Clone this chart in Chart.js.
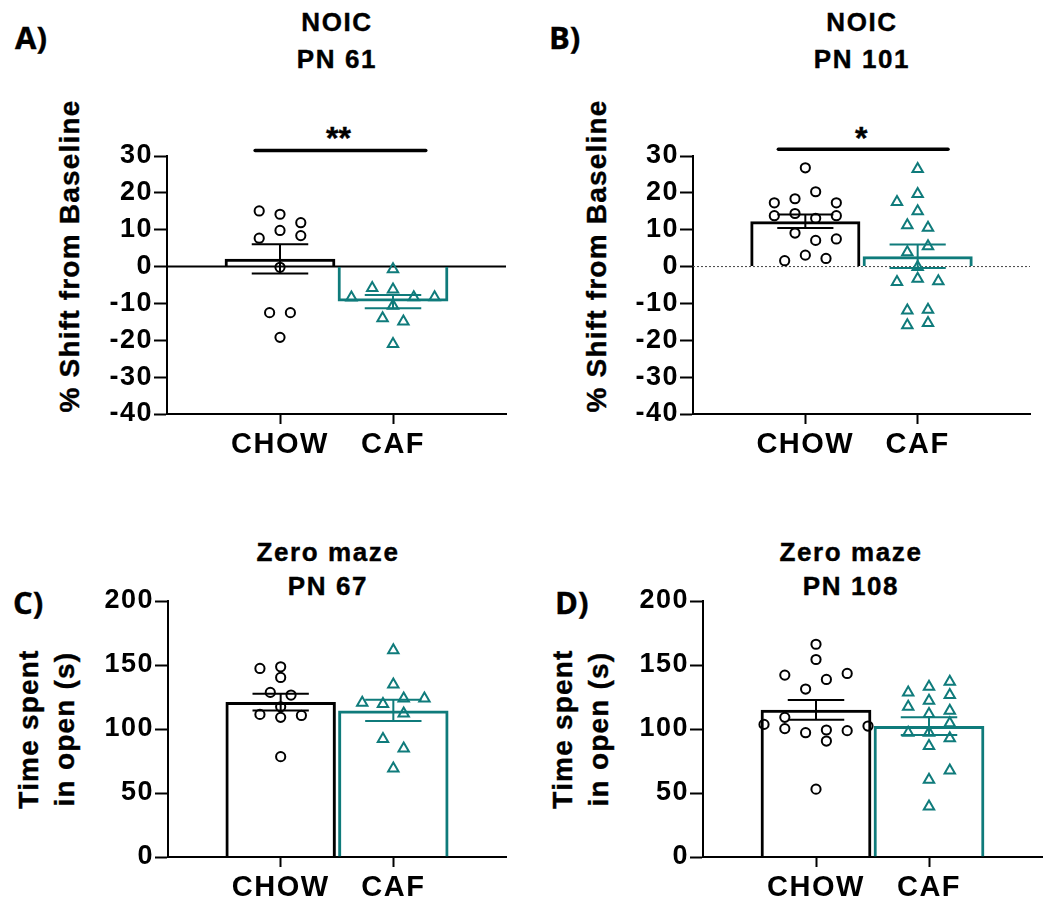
<!DOCTYPE html>
<html>
<head>
<meta charset="utf-8">
<script src="https://cdn.jsdelivr.net/npm/chart.js@4.4.1/dist/chart.umd.min.js"></script>
<style>
  html, body { margin:0; padding:0; background:#fff; }
  #wrap { position:relative; width:1050px; height:916px; overflow:hidden; background:#fff; }
  canvas { position:absolute; }
  .txt { position:absolute; font-family:"Liberation Sans", Arial, sans-serif; font-weight:bold; color:#000; white-space:nowrap; -webkit-text-stroke:0.4px #000; }
  .letter { position:absolute; font-family:"Open Sans", sans-serif; font-weight:700; font-size:31px; line-height:40px; color:#000; -webkit-text-stroke:0.4px #000; }
  .title { text-align:center; width:300px; font-size:26px; letter-spacing:1.6px; }
  .ytitle { text-align:center; width:400px; font-size:28px; letter-spacing:1.2px; transform:rotate(-90deg); transform-origin:50% 50%; }
</style>
</head>
<body>
<div id="wrap">
  <div class="letter" style="left:15px;top:17px;">A)</div>
  <div class="letter" style="left:549px;top:17px;">B)</div>
  <div class="letter" style="left:13px;top:582px;">C)</div>
  <div class="letter" style="left:555px;top:582px;">D)</div>

  <div class="txt title" style="left:187px;top:4px;line-height:37px;">NOIC<br>PN 61</div>
  <div class="txt title" style="left:712px;top:4px;line-height:37px;">NOIC<br>PN 101</div>
  <div class="txt title" style="left:178px;top:535px;line-height:34px;">Zero maze<br>PN 67</div>
  <div class="txt title" style="left:701px;top:535px;line-height:34px;">Zero maze<br>PN 108</div>

  <div class="txt" style="left:326px;top:122px;font-size:32px;line-height:32px;">**</div>
  <div class="txt" style="left:855px;top:122px;font-size:32px;line-height:32px;">*</div>

  <div class="txt ytitle" style="left:-130px;top:242px;line-height:28px;">% Shift from Baseline</div>
  <div class="txt ytitle" style="left:397px;top:242px;line-height:28px;">% Shift from Baseline</div>
  <div class="txt ytitle" style="left:-153px;top:693px;line-height:36px;">Time spent<br>in open (s)</div>
  <div class="txt ytitle" style="left:381px;top:693px;line-height:36px;">Time spent<br>in open (s)</div>

  <canvas id="cA" width="525" height="380" style="left:0px;top:100px;"></canvas>
  <canvas id="cB" width="525" height="380" style="left:525px;top:100px;"></canvas>
  <canvas id="cC" width="525" height="356" style="left:0px;top:560px;"></canvas>
  <canvas id="cD" width="525" height="356" style="left:525px;top:560px;"></canvas>
</div>
<script>
// ---------- DATA ----------
const categories = ['CHOW', 'CAF'];

// Panel A: NOIC PN 61 (% shift from baseline)
const pn61ChowValues = [15.1, 14.2, 11.9, 9.8, 8.4, 7.7, -0.2, -12.5, -12.5, -19.2];
const pn61ChowSlots  = [-2, 0, 2, 0, 2, -2, 0, -1, 1, 0];
const pn61CafValues  = [-0.7, -5.8, -6.2, -8.4, -8.3, -8.3, -10.6, -14.0, -14.9, -21.0];
const pn61CafSlots   = [0, -2, 0, -4, 2, 4, 0, -1, 1, 0];
const pn61Means = [2.1, -9.5];
const pn61Sem   = [3.95, 1.8];

// Panel B: NOIC PN 101
const pn101ChowValues = [26.8, 20.3, 18.4, 17.3, 17.3, 13.8, 14.4, 13.1, 13.8, 9.1, 7.1, 7.5, 3.1, 1.6, 2.2];
const pn101ChowSlots  = [0, 1, -1, -3, 3, -3, -1, 1, 3, -1, 1, 3, 0, -2, 2];
const pn101CafValues  = [26.5, 19.7, 17.5, 15.0, 11.2, 10.5, 5.5, 3.9, -0.1, -4.2, -3.3, -4.0, -11.9, -11.7, -15.9, -15.3];
const pn101CafSlots   = [0, 0, -2, 0, -1, 1, 1, -1, 0, -2, 0, 2, -1, 1, -1, 1];
const pn101Means = [12.3, 2.8];
const pn101Sem   = [1.85, 3.2];

// Panel C: Zero maze PN 67 (time spent in open, s)
const pn67ChowValues = [147.3, 148.6, 140.3, 128.6, 126.5, 117.4, 111.4, 109.1, 110.6, 78.4];
const pn67ChowSlots  = [-2, 0, 0, -1, 1, 0, -2, 0, 2, 0];
const pn67CafValues  = [161.6, 134.8, 120.5, 119.5, 123.9, 123.9, 112.2, 92.2, 84.7, 69.1];
const pn67CafSlots   = [0, 0, -3, -1, 1, 3, 1, -1, 1, 0];
const pn67Means = [121.0, 114.5];
const pn67Sem   = [6.6, 8.3];

// Panel D: Zero maze PN 108
const pn108ChowValues = [166.2, 154.3, 142.1, 143.4, 138.7, 131.2, 109.1, 103.6, 102.3, 100.3, 97.1, 99.2, 98.7, 90.6, 53.0];
const pn108ChowSlots  = [0, 0, -3, 3, 1, -1, -3, -5, 5, -3, -1, 1, 3, 1, 0];
const pn108CafValues  = [136.9, 133.0, 128.6, 126.5, 122.1, 117.4, 114.3, 111.7, 104.4, 97.1, 97.1, 92.7, 86.8, 67.5, 60.3, 39.5];
const pn108CafSlots   = [2, 0, -2, 2, 0, -2, 2, 0, 2, -2, 0, 2, 0, 2, 0, 0];
const pn108Means = [115.0, 102.3];
const pn108Sem   = [7.7, 6.9];

// Significance brackets (x from, x to, y level) in data units
const pn61Sig  = [0.78, 2.29, 31.5];
const pn101Sig = [0.76, 2.27, 31.8];

const noicTicks = [-40, -30, -20, -10, 0, 10, 20, 30];
const mazeTicks = [0, 50, 100, 150, 200];

// ---------- STYLE ----------
const BLACK = '#000000';
const TEAL = '#0f7b7b';
const SLOT = 0.092;
const CAP = 0.25;
const FONT = '"Liberation Sans", Arial, sans-serif';

const letterSpacingPlugin = {
  id: 'letterSpacing',
  beforeDraw(chart) { chart.ctx.letterSpacing = '1.5px'; }
};

function pts(values, slots, center) {
  return values.map((v, i) => ({ x: center + slots[i] * SLOT, y: v }));
}
function errBar(mean, sem, c) {
  const hi = mean + sem, lo = mean - sem;
  return [
    { x: c - CAP, y: hi }, { x: c + CAP, y: hi }, { x: c + CAP, y: null },
    { x: c, y: hi }, { x: c, y: lo }, { x: c, y: null },
    { x: c - CAP, y: lo }, { x: c + CAP, y: lo }
  ];
}

function makePanel(id, p) {
  const datasets = [];
  if (p.zero) {
    datasets.push({
      type: 'line', data: [{ x: 0, y: 0 }, { x: 3, y: 0 }],
      borderColor: p.zero.color, borderWidth: p.zero.width, borderDash: p.zero.dash,
      pointRadius: 0, order: 10
    });
  }
  datasets.push({
    type: 'bar',
    data: [{ x: 1, y: p.means[0] }, { x: 2, y: p.means[1] }],
    backgroundColor: 'rgba(255,255,255,0)',
    borderColor: [BLACK, TEAL], borderWidth: 3,
    barPercentage: 0.98, categoryPercentage: 1, order: 8
  });
  datasets.push({
    type: 'scatter', data: pts(p.chow, p.chowSlots, 1),
    pointStyle: 'circle', pointRadius: 4.6, borderWidth: 2,
    borderColor: BLACK, backgroundColor: 'rgba(255,255,255,0)', order: 3
  });
  datasets.push({
    type: 'scatter', data: pts(p.caf, p.cafSlots, 2),
    pointStyle: 'triangle', pointRadius: 6, borderWidth: 2,
    borderColor: TEAL, backgroundColor: 'rgba(255,255,255,0)', order: 3
  });
  datasets.push({
    type: 'line', data: errBar(p.means[0], p.sem[0], 1),
    borderColor: BLACK, borderWidth: 2, pointRadius: 0, spanGaps: false, order: 1
  });
  datasets.push({
    type: 'line', data: errBar(p.means[1], p.sem[1], 2),
    borderColor: TEAL, borderWidth: 2, pointRadius: 0, spanGaps: false, order: 1
  });
  if (p.sig) {
    datasets.push({
      type: 'line', data: [{ x: p.sig[0], y: p.sig[2] }, { x: p.sig[1], y: p.sig[2] }],
      borderColor: BLACK, borderWidth: 3.5, borderCapStyle: 'round',
      pointRadius: 0, clip: false, order: 0
    });
  }

  new Chart(document.getElementById(id), {
    type: 'bar',
    data: { datasets },
    plugins: [letterSpacingPlugin],
    options: {
      responsive: false, animation: false, events: [],
      layout: { padding: { top: p.padTop, right: p.padRight, left: 0, bottom: 0 } },
      plugins: { legend: { display: false }, tooltip: { enabled: false } },
      scales: {
        x: {
          type: 'linear', position: 'bottom', min: 0, max: 3, offset: false,
          afterBuildTicks: s => { s.ticks = [{ value: 1 }, { value: 2 }]; },
          afterFit: s => { s.height = p.xH; },
          ticks: {
            color: BLACK, padding: 4, maxRotation: 0, autoSkip: false,
            font: { family: FONT, size: 29, weight: 'bold' },
            callback: v => categories[v - 1] || ''
          },
          grid: { offset: false, drawOnChartArea: false, drawTicks: true, tickLength: 10, tickWidth: 2, tickColor: BLACK },
          border: { display: true, color: BLACK, width: 2 }
        },
        y: {
          type: 'linear', min: p.yTicks[0], max: p.yTicks[p.yTicks.length - 1],
          afterBuildTicks: s => { s.ticks = p.yTicks.map(v => ({ value: v })); },
          afterFit: s => { s.width = p.yW; },
          ticks: {
            color: BLACK, padding: 1,
            font: { family: FONT, size: 27, weight: 'bold' }
          },
          grid: { offset: false, drawOnChartArea: false, drawTicks: true, tickLength: 13, tickWidth: 2, tickColor: BLACK },
          border: { display: true, color: BLACK, width: 2 }
        }
      }
    }
  });
}

makePanel('cA', {
  chow: pn61ChowValues, chowSlots: pn61ChowSlots, caf: pn61CafValues, cafSlots: pn61CafSlots,
  means: pn61Means, sem: pn61Sem, sig: pn61Sig, yTicks: noicTicks,
  zero: { color: BLACK, width: 2, dash: [] },
  padTop: 56, padRight: 19, yW: 167, xH: 66
});
makePanel('cB', {
  chow: pn101ChowValues, chowSlots: pn101ChowSlots, caf: pn101CafValues, cafSlots: pn101CafSlots,
  means: pn101Means, sem: pn101Sem, sig: pn101Sig, yTicks: noicTicks,
  zero: { color: '#444444', width: 1, dash: [2, 2] },
  padTop: 56, padRight: 20, yW: 168, xH: 66
});
makePanel('cC', {
  chow: pn67ChowValues, chowSlots: pn67ChowSlots, caf: pn67CafValues, cafSlots: pn67CafSlots,
  means: pn67Means, sem: pn67Sem, yTicks: mazeTicks,
  padTop: 41, padRight: 19, yW: 168, xH: 59
});
makePanel('cD', {
  chow: pn108ChowValues, chowSlots: pn108ChowSlots, caf: pn108CafValues, cafSlots: pn108CafSlots,
  means: pn108Means, sem: pn108Sem, yTicks: mazeTicks,
  padTop: 41, padRight: 8, yW: 178, xH: 59
});
</script>
</body>
</html>
